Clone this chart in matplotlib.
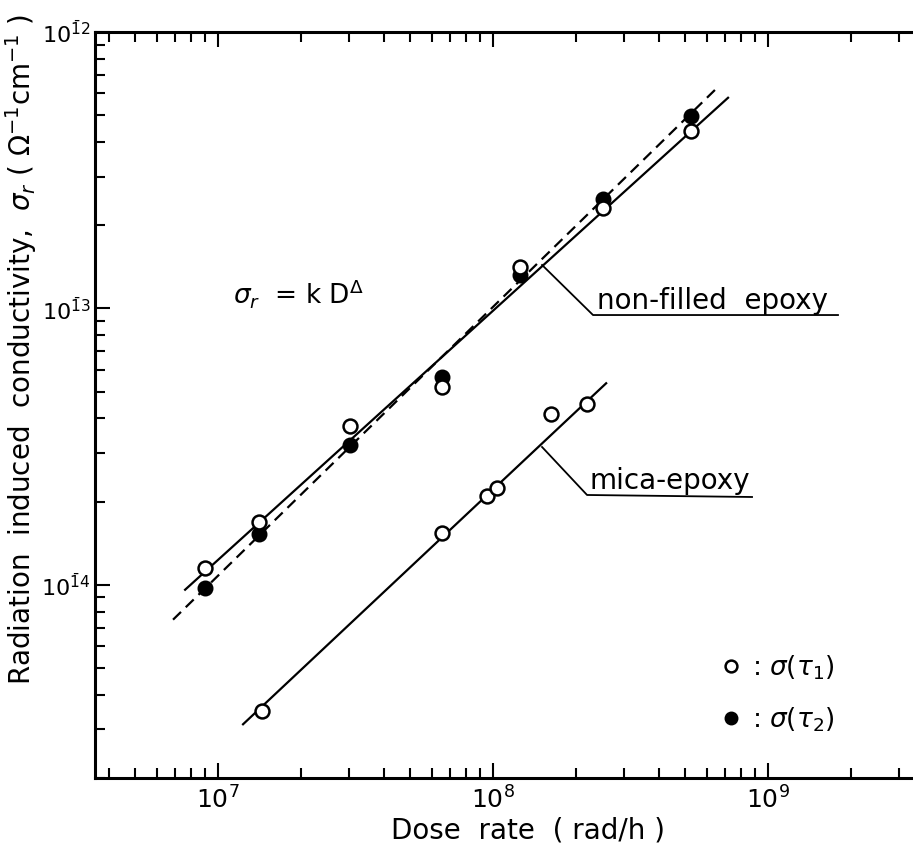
import numpy as np
import matplotlib.pyplot as plt
from matplotlib.ticker import LogLocator, NullFormatter

plt.rcParams['font.family'] = 'DejaVu Sans'
plt.rcParams['mathtext.fontset'] = 'dejavusans'

# non-filled epoxy: sigma(tau1) open circles, sigma(tau2) filled circles
dose_nf = [8.97e6, 1.41e7, 3.02e7, 6.52e7, 1.25e8, 2.51e8, 5.25e8]
sig1_nf = [1.15e-14, 1.69e-14, 3.75e-14, 5.19e-14, 1.41e-13, 2.30e-13, 4.40e-13]
sig2_nf = [9.7e-15, 1.53e-14, 3.20e-14, 5.64e-14, 1.32e-13, 2.49e-13, 4.97e-13]

# mica-epoxy: sigma(tau1)
dose_mica = [1.445e7, 6.52e7, 9.5e7, 1.03e8, 1.63e8, 2.2e8]
sig1_mica = [3.51e-15, 1.54e-14, 2.09e-14, 2.24e-14, 4.14e-14, 4.50e-14]

# fitted lines sigma_r = k D^delta (end points)
fit1_nf_dose = [7.59e6, 7.16e8]
fit1_nf_sig = [9.6e-15, 5.78e-13]
fit2_nf_dose = [6.86e6, 6.47e8]
fit2_nf_sig = [7.48e-15, 6.22e-13]
fit_mica_dose = [1.233e7, 2.58e8]
fit_mica_sig = [3.13e-15, 5.36e-14]

x_ticks = [1e7, 1e8, 1e9]
x_ticklabels = [r'$10^{7}$', r'$10^{8}$', r'$10^{9}$']
y_ticks = [1e-14, 1e-13, 1e-12]
# old-style notation: bar over the first digit of the exponent means negative
y_ticklabels = [r'$10^{\bar{1}4}$', r'$10^{\bar{1}3}$', r'$10^{\bar{1}2}$']


def plot_figure():
    fig = plt.figure(figsize=(9.13, 8.48), dpi=100)
    ax = fig.add_axes([0.1041, 0.0825, 0.8959, 0.8798])

    # fitted lines
    ax.plot(fit1_nf_dose, fit1_nf_sig, color='k', lw=1.6, zorder=2)
    ax.plot(fit2_nf_dose, fit2_nf_sig, color='k', lw=1.6, ls=(0, (5, 3)), zorder=2)
    ax.plot(fit_mica_dose, fit_mica_sig, color='k', lw=1.6, zorder=2)

    # data points
    h2, = ax.plot(dose_nf, sig2_nf, 'o', ms=10, mfc='k', mec='k', mew=1.5, zorder=3)
    h1, = ax.plot(dose_nf, sig1_nf, 'o', ms=10, mfc='white', mec='k', mew=1.8, zorder=4)
    ax.plot(dose_mica, sig1_mica, 'o', ms=10, mfc='white', mec='k', mew=1.8, zorder=4)

    ax.set_xscale('log')
    ax.set_yscale('log')
    ax.set_xlim(3.57e6, 3.37e9)
    ax.set_ylim(2.0e-15, 1e-12)

    ax.set_xticks(x_ticks)
    ax.set_xticklabels(x_ticklabels)
    ax.set_yticks(y_ticks)
    ax.set_yticklabels(y_ticklabels)
    ax.xaxis.set_minor_locator(LogLocator(base=10, subs=np.arange(2, 10)))
    ax.yaxis.set_minor_locator(LogLocator(base=10, subs=np.arange(2, 10)))
    ax.xaxis.set_minor_formatter(NullFormatter())
    ax.yaxis.set_minor_formatter(NullFormatter())

    ax.tick_params(which='both', direction='in', top=True, right=False, width=1.5)
    ax.tick_params(which='major', length=11, labelsize=18, pad=6)
    ax.tick_params(which='minor', length=7)
    ax.tick_params(axis='y', which='major', labelsize=16, pad=3)
    for side in ['left', 'bottom', 'top']:
        ax.spines[side].set_linewidth(2.2)
    ax.spines['right'].set_visible(False)

    ax.set_xlabel('Dose  rate  ( rad/h )', fontsize=20)
    ax.xaxis.set_label_coords(0.529, -0.052)
    ax.set_ylabel(r'Radiation  induced  conductivity,  $\sigma_r$ ( $\Omega^{-1}$cm$^{-1}$ )',
                  fontsize=20)
    ax.yaxis.set_label_coords(-0.069, 0.574)

    # equation
    ax.text(0.169, 0.650, r'$\sigma_r$  = k D$^{\Delta}$', transform=ax.transAxes,
            fontsize=19, ha='left', va='center')

    # callouts
    ax.plot([0.5465, 0.6088, 0.9083], [0.6877, 0.6206, 0.6206], color='k', lw=1.3,
            transform=ax.transAxes)
    ax.text(0.6137, 0.6394, 'non-filled  epoxy', transform=ax.transAxes,
            fontsize=20, ha='left', va='center')
    ax.plot([0.5465, 0.6015, 0.8032], [0.4437, 0.3794, 0.3767], color='k', lw=1.3,
            transform=ax.transAxes)
    ax.text(0.6039, 0.3981, 'mica-epoxy', transform=ax.transAxes,
            fontsize=20, ha='left', va='center')

    # legend
    ax.legend([h1, h2], [r': $\sigma(\tau_1)$', r': $\sigma(\tau_2)$'],
              loc='center left', bbox_to_anchor=(0.765, 0.113), frameon=False,
              fontsize=19, handlelength=0.8, handletextpad=0.4, labelspacing=0.9,
              borderpad=0, borderaxespad=0, markerscale=0.85)

    fig.savefig('out.png', dpi=100)


if __name__ == '__main__':
    plot_figure()
